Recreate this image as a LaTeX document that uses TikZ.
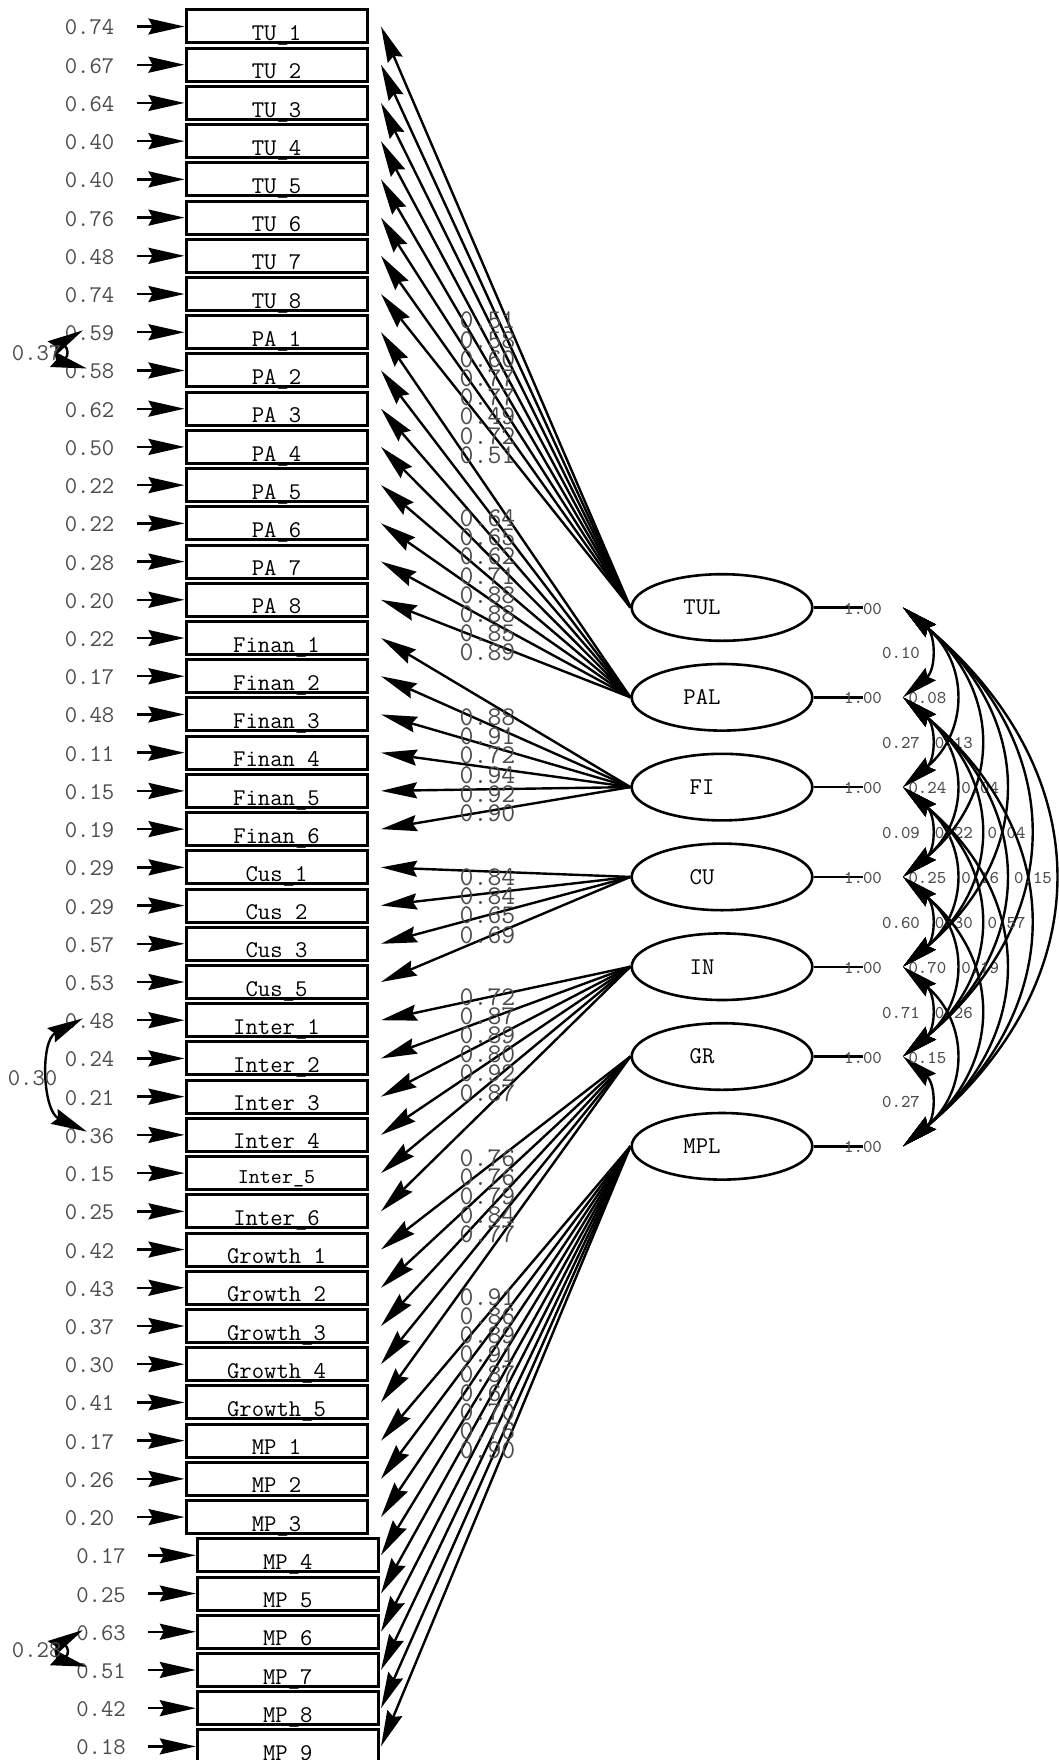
\documentclass[tikz,border=0pt]{standalone}
\usetikzlibrary{arrows.meta,shapes.geometric}
\definecolor{numc}{gray}{0.3}
\begin{document}
\begin{tikzpicture}[x=0.5pt,y=-0.5pt,
  >={Stealth[length=18pt,width=8pt,inset=2pt]},
  box/.style={draw,line width=1.5pt,minimum width=90.5pt,minimum height=16.5pt,inner sep=0pt,text height=15.3pt,text depth=1.2pt,font=\fontsize{12}{12}\selectfont\ttfamily},
  boxs/.style={box,text height=13.5pt,text depth=3pt,font=\fontsize{10.5}{10.5}\selectfont\ttfamily},
  lat/.style={draw,ellipse,line width=1.3pt,minimum width=90.3pt,minimum height=33.3pt,inner sep=0pt},
  latlab/.style={xshift=-10pt,inner sep=0pt,font=\fontsize{12}{12}\selectfont\ttfamily},
  errnum/.style={anchor=base,inner sep=0pt,text=numc,font=\fontsize{12}{12}\selectfont\ttfamily},
  loadlab/.style={inner sep=0pt,text=numc,font=\fontsize{13.5}{13.5}\selectfont\ttfamily},
  corlab/.style={inner sep=0pt,text=numc,font=\fontsize{9}{9}\selectfont\ttfamily},
  conn/.style={line width=1.2pt,->},
  dconn/.style={line width=1.2pt,<->},
  plainline/.style={line width=1.2pt}]
\fill[white] (0,0) rectangle (1059,1760);
\useasboundingbox (0,0) rectangle (1059,1760);

% latent variables
\foreach \n [count=\k] in {TUL,PAL,FI,CU,IN,GR,MPL}{
  \pgfmathsetmacro\ly{607.5+(\k-1)*89.8}
  \node[lat,label={[latlab]center:\n}] (\n) at (722,\ly) {};
  \coordinate (e\k) at (863,\ly);
  \draw[plainline] (\n.east) -- (e\k);
  \node[corlab] (one\k) at (863,\ly+1) {1.00};
  \coordinate (c\k) at (903,\ly);
}

% observed variables
\foreach \i/\lab/\err/\lat in {
 1/TU\_1/0.74/TUL, 2/TU\_2/0.67/TUL, 3/TU\_3/0.64/TUL, 4/TU\_4/0.40/TUL,
 5/TU\_5/0.40/TUL, 6/TU\_6/0.76/TUL, 7/TU\_7/0.48/TUL, 8/TU\_8/0.74/TUL,
 9/PA\_1/0.59/PAL, 10/PA\_2/0.58/PAL, 11/PA\_3/0.62/PAL, 12/PA\_4/0.50/PAL,
 13/PA\_5/0.22/PAL, 14/PA\_6/0.22/PAL, 15/PA\_7/0.28/PAL, 16/PA\_8/0.20/PAL,
 17/Finan\_1/0.22/FI, 18/Finan\_2/0.17/FI, 19/Finan\_3/0.48/FI, 20/Finan\_4/0.11/FI,
 21/Finan\_5/0.15/FI, 22/Finan\_6/0.19/FI,
 23/Cus\_1/0.29/CU, 24/Cus\_2/0.29/CU, 25/Cus\_3/0.57/CU, 26/Cus\_5/0.53/CU,
 27/Inter\_1/0.48/IN, 28/Inter\_2/0.24/IN, 29/Inter\_3/0.21/IN, 30/Inter\_4/0.36/IN,
 31/Inter\_5/0.15/IN, 32/Inter\_6/0.25/IN,
 33/Growth\_1/0.42/GR, 34/Growth\_2/0.43/GR, 35/Growth\_3/0.37/GR, 36/Growth\_4/0.30/GR,
 37/Growth\_5/0.41/GR,
 38/MP\_1/0.17/MPL, 39/MP\_2/0.26/MPL, 40/MP\_3/0.20/MPL, 41/MP\_4/0.17/MPL,
 42/MP\_5/0.25/MPL, 43/MP\_6/0.63/MPL, 44/MP\_7/0.51/MPL, 45/MP\_8/0.42/MPL,
 46/MP\_9/0.18/MPL}{
  \pgfmathsetmacro\yy{26.5+(\i-1)*38.22}
  \ifnum\i>40 \def\bx{287.8}\def\ex{148}\def\nx{101}\else\def\bx{276.5}\def\ex{136.7}\def\nx{89.5}\fi
  \ifnum\i=31
    \node[boxs] (v\i) at (\bx,\yy) {\lab};
  \else
    \node[box] (v\i) at (\bx,\yy) {\lab};
  \fi
  \node[errnum] (n\i) at (\nx,\yy+8.5) {\err};
  \coordinate (s\i) at (\ex,\yy);
  \draw[conn] (s\i) -- (v\i.west);
  \coordinate (t\i) at (381,\yy);
  \draw[conn] (\lat.west) -- (t\i);
}

% loading labels
\foreach \ys/\vals [count=\g] in {
 320.7/{0.51,0.58,0.60,0.77,0.77,0.49,0.72,0.51},
 518.3/{0.64,0.65,0.62,0.71,0.88,0.88,0.85,0.89},
 717.3/{0.88,0.91,0.72,0.94,0.92,0.90},
 877.3/{0.84,0.84,0.65,0.69},
 996.7/{0.72,0.87,0.89,0.80,0.92,0.87},
 1157.7/{0.76,0.76,0.79,0.84,0.77},
 1297/{0.91,0.86,0.89,0.91,0.87,0.61,0.70,0.76,0.90}}{
  \foreach \v [count=\j] in \vals {
    \node[loadlab] (ld\g-\j) at (487.5,\ys+\j*19.2-19.2) {\v};
  }
}

% correlations among latent variables
\foreach \a/\b/\v in {1/2/0.10,2/3/0.27,3/4/0.09,4/5/0.60,5/6/0.71,6/7/0.27,
  1/3/0.08,2/4/0.24,3/5/0.25,4/6/0.70,5/7/0.15,
  1/4/0.13,2/5/0.22,3/6/0.30,4/7/0.26,
  1/5/0.04,2/6/0.16,3/7/0.19,
  1/6/0.04,2/7/0.57,
  1/7/0.15}{
  \pgfmathsetmacro\lx{901+26.4*(\b-\a-1)}
  \pgfmathsetmacro\my{607.5+((\a+\b)/2-1)*89.8+1}
  \draw[dconn] (c\a) to[out=-40,in=40,looseness=1.23] (c\b);
  \node[corlab] (r\a\b) at (\lx,\my) {\v};
}

% correlated errors
\coordinate (pa1) at (83,330.3);
\coordinate (pa2) at (87,368.5);
\draw[dconn] (pa1) to[out=210,in=165] (pa2);
\node[errnum,anchor=center] (q1) at (36.7,353) {0.37};

\coordinate (in1) at (83,1018.3);
\coordinate (in4) at (87,1131.7);
\draw[dconn] (in1) to[out=208,in=155,looseness=1.1] (in4);
\node[errnum,anchor=center] (q2) at (32.5,1078.3) {0.30};

\coordinate (mp6) at (83,1630);
\coordinate (mp7) at (87,1666.7);
\draw[dconn] (mp6) to[out=210,in=165] (mp7);
\node[errnum,anchor=center] (q3) at (36.7,1650) {0.28};
\end{tikzpicture}
\end{document}
